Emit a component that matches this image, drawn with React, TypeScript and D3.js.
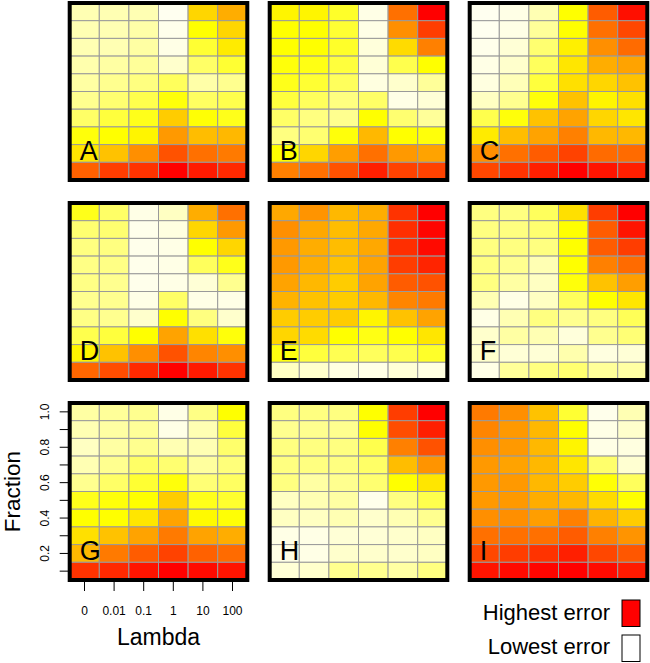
import React from "react";
import * as d3 from "d3";

// Lambda (columns) and Fraction (rows) categories
const lambdas = ["0", "0.01", "0.1", "1", "10", "100"];
// rows listed top (1.0) to bottom (0.1)
const fractions = [1.0, 0.9, 0.8, 0.7, 0.6, 0.5, 0.4, 0.3, 0.2, 0.1];
const fractionTickLabels = [0.2, 0.4, 0.6, 0.8, 1.0];
const panelLabels = ["A", "B", "C", "D", "E", "F", "G", "H", "I"];

// relative error level (0 = lowest, 100 = highest) per panel; rows top (1.0) -> bottom (0.1)
const errA = [
  [15, 15, 15, 3, 58, 66],
  [15, 15, 17, 4, 50, 58],
  [15, 15, 18, 5, 40, 54],
  [16, 18, 20, 10, 30, 40],
  [18, 22, 25, 32, 17, 22],
  [22, 28, 35, 48, 31, 35],
  [30, 38, 45, 60, 49, 45],
  [48, 50, 52, 70, 63, 64],
  [55, 62, 72, 84, 78, 76],
  [81, 88, 90, 100, 95, 92],
];
const errB = [
  [52, 52, 42, 5, 78, 100],
  [50, 50, 40, 5, 72, 88],
  [50, 50, 42, 7, 57, 75],
  [48, 46, 38, 8, 35, 50],
  [45, 40, 32, 6, 10, 20],
  [38, 32, 25, 30, 5, 8],
  [30, 25, 22, 50, 28, 20],
  [25, 28, 48, 64, 50, 48],
  [50, 58, 69, 78, 70, 68],
  [75, 78, 84, 94, 87, 87],
];
const errC = [
  [3, 5, 15, 50, 82, 97],
  [3, 5, 20, 50, 78, 86],
  [4, 8, 28, 53, 72, 79],
  [5, 10, 32, 55, 66, 68],
  [6, 14, 38, 56, 58, 62],
  [12, 22, 48, 62, 52, 56],
  [35, 48, 62, 68, 58, 55],
  [54, 63, 68, 75, 64, 64],
  [72, 78, 82, 87, 79, 79],
  [86, 90, 94, 100, 96, 94],
];
const errD = [
  [45, 30, 5, 12, 66, 78],
  [28, 28, 4, 6, 58, 70],
  [25, 25, 4, 5, 50, 58],
  [24, 24, 4, 5, 32, 45],
  [24, 22, 4, 5, 8, 22],
  [22, 22, 5, 30, 5, 5],
  [24, 22, 10, 50, 25, 10],
  [35, 38, 50, 68, 56, 48],
  [52, 62, 72, 84, 74, 72],
  [80, 85, 92, 100, 95, 90],
];
const errE = [
  [67, 71, 64, 66, 90, 100],
  [72, 67, 63, 67, 91, 99],
  [70, 66, 63, 67, 91, 98],
  [70, 66, 62, 68, 88, 93],
  [68, 64, 60, 68, 82, 84],
  [65, 62, 60, 64, 74, 76],
  [60, 60, 60, 52, 62, 68],
  [58, 57, 50, 46, 50, 55],
  [47, 38, 34, 32, 35, 42],
  [12, 10, 6, 5, 8, 6],
];
const errF = [
  [25, 25, 32, 56, 88, 100],
  [25, 25, 28, 50, 82, 96],
  [25, 25, 25, 50, 82, 88],
  [25, 22, 15, 50, 75, 79],
  [25, 18, 12, 48, 62, 69],
  [15, 5, 12, 32, 50, 55],
  [5, 15, 25, 22, 25, 33],
  [10, 18, 15, 7, 22, 27],
  [10, 8, 8, 16, 6, 8],
  [5, 20, 25, 28, 20, 18],
];
const errG = [
  [18, 20, 22, 5, 24, 50],
  [15, 18, 20, 5, 15, 38],
  [12, 18, 22, 15, 15, 29],
  [15, 22, 30, 28, 19, 26],
  [22, 30, 40, 48, 27, 31],
  [45, 48, 50, 60, 45, 41],
  [50, 50, 55, 68, 51, 49],
  [56, 62, 68, 76, 68, 66],
  [64, 76, 82, 87, 81, 79],
  [90, 92, 96, 100, 98, 96],
];
const errH = [
  [25, 25, 25, 50, 88, 100],
  [22, 22, 22, 50, 85, 94],
  [25, 25, 25, 35, 75, 84],
  [25, 25, 25, 30, 63, 71],
  [25, 18, 22, 28, 50, 55],
  [12, 15, 18, 4, 25, 35],
  [12, 12, 15, 10, 15, 22],
  [5, 5, 8, 8, 10, 12],
  [5, 5, 10, 10, 10, 12],
  [8, 10, 22, 22, 18, 25],
];
const errI = [
  [76, 72, 62, 40, 4, 15],
  [74, 70, 64, 50, 5, 10],
  [72, 70, 64, 52, 5, 6],
  [70, 68, 64, 55, 29, 9],
  [70, 70, 64, 60, 49, 32],
  [70, 70, 66, 64, 57, 50],
  [72, 72, 69, 75, 65, 60],
  [78, 78, 78, 82, 75, 71],
  [86, 88, 90, 94, 86, 83],
  [96, 98, 99, 100, 98, 95],
];
const panelData = [errA, errB, errC, errD, errE, errF, errG, errH, errI];

const legendLabels = ["Highest error", "Lowest error"];

const FONT = "'Liberation Sans', Arial, Helvetica, sans-serif";

const W = 650;
const H = 663;
const PANEL_W = 177.6;
const PANEL_H = 177;
const LEFT0 = 69.7;
const TOP0 = 3;
const STEP = 200;

const color = d3
  .scaleLinear<string>()
  .domain([0, 50, 100])
  .range(["#ffffff", "#ffff00", "#ff0000"])
  .interpolate(d3.interpolateRgb);

const x = d3.scaleBand<string>().domain(lambdas).range([0, PANEL_W]).padding(0);
const y = d3
  .scaleBand<string>()
  .domain(fractions.map((f) => f.toFixed(1)))
  .range([0, PANEL_H])
  .padding(0);

function Panel({ data, label, px, py }: { data: number[][]; label: string; px: number; py: number }) {
  return (
    <g transform={`translate(${px},${py})`}>
      {data.map((row, ri) =>
        row.map((v, ci) => (
          <rect
            key={`${ri}-${ci}`}
            x={x(lambdas[ci])}
            y={y(fractions[ri].toFixed(1))}
            width={x.bandwidth()}
            height={y.bandwidth()}
            fill={color(v)}
            stroke="#9a9a9a"
            strokeWidth={1}
          />
        ))
      )}
      <rect x={0} y={0} width={PANEL_W} height={PANEL_H} fill="none" stroke="#000" strokeWidth={4} />
      <text x={10} y={PANEL_H - 20} fontSize={27} fontFamily={FONT} fill="#000">
        {label}
      </text>
    </g>
  );
}

export default function App() {
  const gx = LEFT0;
  const gy = TOP0 + 2 * STEP;
  return (
    <svg
      width={W}
      height={H}
      style={{ position: "absolute", left: 0, top: 0, background: "#fff" }}
      fontFamily={FONT}
    >
      <rect x={0} y={0} width={W} height={H} fill="#fff" />
      {panelData.map((d, i) => (
        <Panel
          key={i}
          data={d}
          label={panelLabels[i]}
          px={LEFT0 + (i % 3) * STEP}
          py={TOP0 + Math.floor(i / 3) * STEP}
        />
      ))}
      {/* Y axis on panel G */}
      <g>
        {fractions.map((f) => {
          const yc = gy + (y(f.toFixed(1)) as number) + y.bandwidth() / 2;
          return <line key={f} x1={gx - 10} x2={gx} y1={yc} y2={yc} stroke="#000" strokeWidth={1} />;
        })}
        {fractionTickLabels.map((f) => {
          const yc = gy + (y(f.toFixed(1)) as number) + y.bandwidth() / 2;
          return (
            <text
              key={f}
              transform={`translate(49,${yc}) rotate(-90)`}
              textAnchor="middle"
              fontSize={12}
              fill="#000"
            >
              {f.toFixed(1)}
            </text>
          );
        })}
        <text transform={`translate(19.5,${gy + PANEL_H / 2}) rotate(-90)`} textAnchor="middle" fontSize={22.5}>
          Fraction
        </text>
      </g>
      {/* X axis on panel G */}
      <g>
        {lambdas.map((l) => {
          const xc = gx + (x(l) as number) + x.bandwidth() / 2;
          return (
            <g key={l}>
              <line x1={xc} x2={xc} y1={gy + PANEL_H} y2={gy + PANEL_H + 11} stroke="#000" strokeWidth={1} />
              <text x={xc} y={615} textAnchor="middle" fontSize={12}>
                {l}
              </text>
            </g>
          );
        })}
        <text x={gx + PANEL_W / 2} y={645} textAnchor="middle" fontSize={23}>
          Lambda
        </text>
      </g>
      {/* Legend */}
      <g>
        <text x={610} y={620} textAnchor="end" fontSize={22}>
          {legendLabels[0]}
        </text>
        <rect x={622} y={600} width={18} height={26.5} fill={color(100)} stroke="#000" strokeWidth={1} />
        <text x={610} y={654} textAnchor="end" fontSize={22}>
          {legendLabels[1]}
        </text>
        <rect x={622} y={635} width={18} height={26.5} fill={color(0)} stroke="#000" strokeWidth={1} />
      </g>
    </svg>
  );
}
